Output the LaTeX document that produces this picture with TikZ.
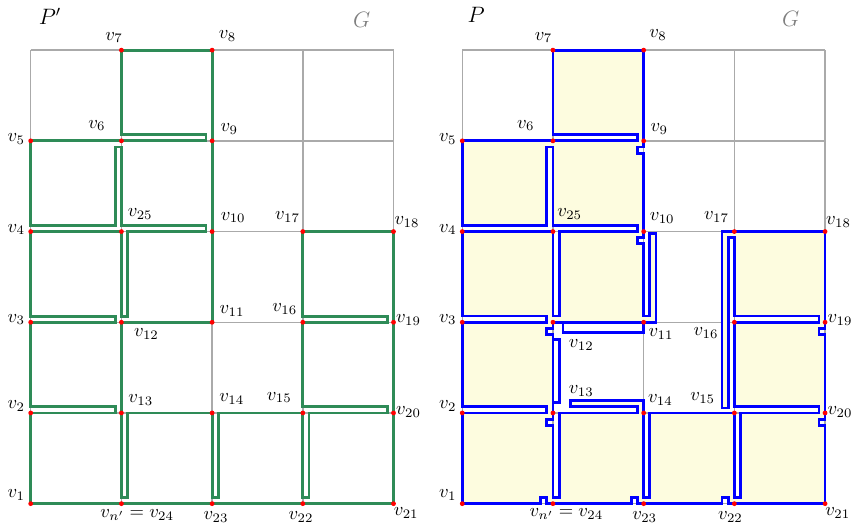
\documentclass[tikz,border=0pt]{standalone}
\usetikzlibrary{calc}
\definecolor{gridgray}{RGB}{170,170,170}
\definecolor{pgreen}{RGB}{46,139,87}
\definecolor{pblue}{RGB}{0,0,255}
\definecolor{pyellow}{RGB}{253,252,223}
\def\dl{0.068}
\newcommand{\defverts}[1]{%
  \foreach \n/\x/\y in {1/0/0,2/0/1,3/0/2,4/0/3,5/0/4,6/1/4,7/1/5,8/2/5,9/2/4,10/2/3,11/2/2,12/1/2,13/1/1,14/2/1,15/3/1,16/3/2,17/3/3,18/4/3,19/4/2,20/4/1,21/4/0,22/3/0,23/2/0,24/1/0,25/1/3}{\coordinate (#1\n) at (\x,\y);}}
\newcommand{\vl}[4]{\node[lbl] at ([shift={(#2,#3)}]#1) {$#4$};}
\newcommand{\gridlines}{%
  \foreach \x in {0,...,4}{\draw[gridline] (\x,0) -- (\x,5);}
  \foreach \y in {0,...,5}{\draw[gridline] (0,\y) -- (4,\y);}}
\begin{document}
\begin{tikzpicture}[x=1.718cm,y=1.718cm,
  gridline/.style={gridgray, line width=0.8pt},
  gpath/.style={pgreen, line width=1.55pt},
  bpath/.style={pblue, line width=1.5pt},
  lbl/.style={inner sep=0pt}]
\useasboundingbox (-0.3385,-0.2348) rectangle (9.077,5.553);
% ---------------- left: P' ----------------
\begin{scope}
\defverts{L}
\gridlines
\draw[gpath] (0,0) -- (0,1) -- (1-\dl,1) -- (1-\dl,1+\dl) -- (0,1+\dl) -- (0,2) -- (1-\dl,2) -- (1-\dl,2+\dl) -- (0,2+\dl) -- (0,3) -- (1,3) -- (1,2+\dl) -- (1+\dl,2+\dl) -- (1+\dl,3) -- (2-\dl,3) -- (2-\dl,3+\dl) -- (1,3+\dl) -- (1,4-\dl) -- (1-\dl,4-\dl) -- (1-\dl,3+\dl) -- (0,3+\dl) -- (0,4) -- (2-\dl,4) -- (2-\dl,4+\dl) -- (1,4+\dl) -- (1,5) -- (2,5) -- (2,2) -- (1,2) -- (1,\dl) -- (1+\dl,\dl) -- (1+\dl,1) -- (2,1) -- (2,\dl) -- (2+\dl,\dl) -- (2+\dl,1) -- (3,1) -- (3,\dl) -- (3+\dl,\dl) -- (3+\dl,1) -- (4-\dl,1) -- (4-\dl,1+\dl) -- (3,1+\dl) -- (3,2) -- (4-\dl,2) -- (4-\dl,2+\dl) -- (3,2+\dl) -- (3,3) -- (4,3) -- (4,0) -- cycle;
\foreach \i in {1,...,25}{\fill[red] (L\i) circle (1.3pt);}
\node at (0.213,5.377) {\large $P'$};
\node[text=gray] at (3.65,5.33) {\large $G$};
\vl{L1}{-0.16}{0.094}{v_1}
\vl{L2}{-0.16}{0.077}{v_2}
\vl{L3}{-0.16}{0.030}{v_3}
\vl{L4}{-0.16}{0.022}{v_4}
\vl{L5}{-0.16}{0.019}{v_5}
\vl{L6}{-0.27}{0.17}{v_6}
\vl{L7}{-0.08}{0.14}{v_7}
\vl{L8}{0.17}{0.158}{v_8}
\vl{L9}{0.19}{0.132}{v_9}
\vl{L10}{0.232}{0.154}{v_{10}}
\vl{L11}{0.22}{0.127}{v_{11}}
\vl{L12}{0.276}{-0.132}{v_{12}}
\vl{L13}{0.213}{0.147}{v_{13}}
\vl{L14}{0.217}{0.155}{v_{14}}
\vl{L15}{-0.259}{0.171}{v_{15}}
\vl{L16}{-0.198}{0.143}{v_{16}}
\vl{L17}{-0.169}{0.16}{v_{17}}
\vl{L18}{0.149}{0.108}{v_{18}}
\vl{L19}{0.165}{0.021}{v_{19}}
\vl{L20}{0.165}{0.009}{v_{20}}
\vl{L21}{0.14}{-0.103}{v_{21}}
\vl{L22}{-0.019}{-0.149}{v_{22}}
\vl{L23}{0.043}{-0.149}{v_{23}}
\vl{L24}{0.174}{-0.121}{v_{n'} = v_{24}}
\vl{L25}{0.207}{0.19}{v_{25}}
\end{scope}
% ---------------- right: P ----------------
\begin{scope}[shift={(4.758,0)}]
\defverts{R}
\gridlines
\draw[bpath, fill=pyellow] (0,0) -- (0,1) -- (1-\dl,1) -- (1-\dl,1+\dl) -- (0,1+\dl) -- (0,2) -- (1-\dl,2) -- (1-\dl,2+\dl) -- (0,2+\dl) -- (0,3) -- (1,3) -- (1,2+\dl) -- (1+\dl,2+\dl) -- (1+\dl,3) -- (2-\dl,3) -- (2-\dl,3+\dl) -- (1,3+\dl) -- (1,4-\dl) -- (1-\dl,4-\dl) -- (1-\dl,3+\dl) -- (0,3+\dl) -- (0,4) -- (2-\dl,4) -- (2-\dl,4+\dl) -- (1,4+\dl) -- (1,5) -- (2,5) -- (2,4-\dl) -- (2-\dl,4-\dl) -- (2-\dl,4-2*\dl) -- (2,4-2*\dl) -- (2,3-\dl) -- (2-\dl,3-\dl) -- (2-\dl,3-2*\dl) -- (2,3-2*\dl) -- (2,2+\dl) -- (2+\dl,2+\dl) -- (2+\dl,2.975) -- (2+2*\dl,2.975) -- (2+2*\dl,2) -- (1,2) -- (1,2-\dl) -- (1-\dl,2-\dl) -- (1-\dl,2-2*\dl) -- (1,2-2*\dl) -- (1,1-\dl) -- (1-\dl,1-\dl) -- (1-\dl,1-2*\dl) -- (1,1-2*\dl) -- (1,\dl) -- (1+\dl,\dl) -- (1+\dl,1) -- (2-\dl,1) -- (2-\dl,1+\dl) -- (1.19,1+\dl) -- (1.19,1+2*\dl) -- (2,1+2*\dl) -- (2,\dl) -- (2+\dl,\dl) -- (2+\dl,1) -- (3,1) -- (3,\dl) -- (3+\dl,\dl) -- (3+\dl,1) -- (4-\dl,1) -- (4-\dl,1+\dl) -- (3,1+\dl) -- (3,2) -- (4-\dl,2) -- (4-\dl,2+\dl) -- (3,2+\dl) -- (3,3-\dl) -- (3-\dl,3-\dl) -- (3-\dl,1.055) -- (3-2*\dl,1.055) -- (3-2*\dl,3) -- (4,3) -- (4,2-\dl) -- (4-\dl,2-\dl) -- (4-\dl,2-2*\dl) -- (4,2-2*\dl) -- (4,1-\dl) -- (4-\dl,1-\dl) -- (4-\dl,1-2*\dl) -- (4,1-2*\dl) -- (4,0) -- (3-\dl,0) -- (3-\dl,\dl) -- (3-2*\dl,\dl) -- (3-2*\dl,0) -- (2-\dl,0) -- (2-\dl,\dl) -- (2-2*\dl,\dl) -- (2-2*\dl,0) -- (1-\dl,0) -- (1-\dl,\dl) -- (1-2*\dl,\dl) -- (1-2*\dl,0) -- cycle;
% thin slits in the white cells
\draw[bpath] (1.11,2) -- (1.11,2-1.7*\dl) -- (2,2-1.7*\dl) -- (2,2);
\draw[bpath] (1,1.115) -- (1+\dl,1.115) -- (1+\dl,1.81) -- (1,1.81);
\foreach \i in {1,...,25}{\fill[red] (R\i) circle (1.3pt);}
\node at (0.154,5.388) {\large $P$};
\node[text=gray] at (3.62,5.35) {\large $G$};
\vl{R1}{-0.16}{0.094}{v_1}
\vl{R2}{-0.16}{0.077}{v_2}
\vl{R3}{-0.16}{0.030}{v_3}
\vl{R4}{-0.16}{0.022}{v_4}
\vl{R5}{-0.16}{0.019}{v_5}
\vl{R6}{-0.299}{0.17}{v_6}
\vl{R7}{-0.105}{0.14}{v_7}
\vl{R8}{0.159}{0.163}{v_8}
\vl{R9}{0.173}{0.129}{v_9}
\vl{R10}{0.204}{0.149}{v_{10}}
\vl{R11}{0.192}{-0.127}{v_{11}}
\vl{R12}{0.313}{-0.255}{v_{12}}
\vl{R13}{0.313}{0.244}{v_{13}}
\vl{R14}{0.184}{0.147}{v_{14}}
\vl{R15}{-0.349}{0.165}{v_{15}}
\vl{R16}{-0.312}{-0.121}{v_{16}}
\vl{R17}{-0.196}{0.16}{v_{17}}
\vl{R18}{0.149}{0.108}{v_{18}}
\vl{R19}{0.165}{0.021}{v_{19}}
\vl{R20}{0.165}{0.009}{v_{20}}
\vl{R21}{0.14}{-0.103}{v_{21}}
\vl{R22}{-0.044}{-0.149}{v_{22}}
\vl{R23}{0.011}{-0.149}{v_{23}}
\vl{R24}{0.148}{-0.118}{v_{n'} = v_{24}}
\vl{R25}{0.184}{0.19}{v_{25}}
\end{scope}
\end{tikzpicture}
\end{document}
